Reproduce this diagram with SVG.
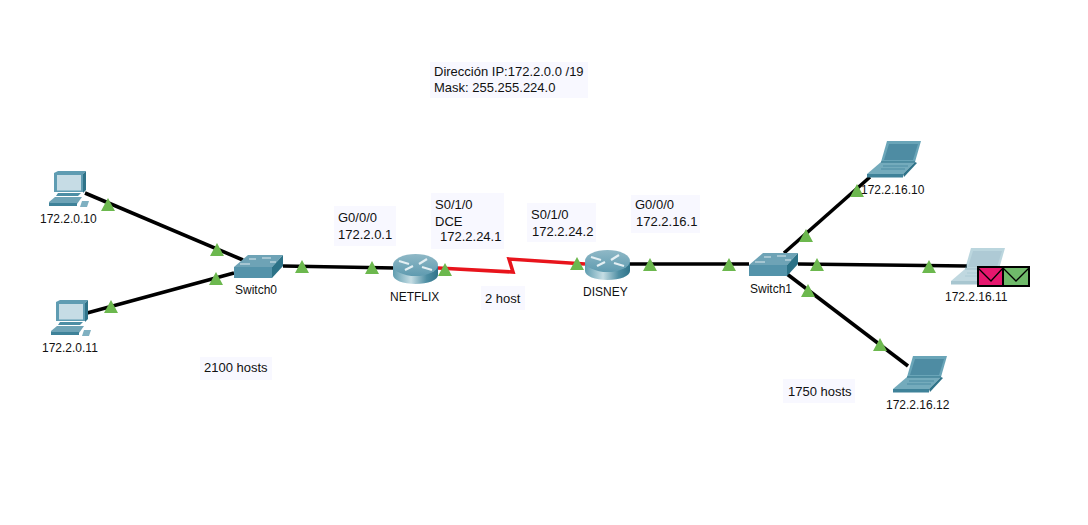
<svg xmlns="http://www.w3.org/2000/svg" width="1088" height="525" viewBox="0 0 1088 525">
<style>
text{font-family:"Liberation Sans",Arial,sans-serif;font-size:12px;fill:#111}
.n{font-size:13px}
.note{fill:#f8f8ff}
.eth{fill:none;stroke:#000;stroke-width:3.600}
.ser{fill:none;stroke:#e8141c;stroke-width:3.600}
.lt{fill:#6cb84e}
.env{stroke:#000;stroke-width:2}
.flap{fill:none;stroke:#000;stroke-width:1.300}
</style>
<defs>
<linearGradient id="rside" x1="0" x2="1" y1="0" y2="0">
<stop offset="0" stop-color="#5f9db0"/><stop offset=".4" stop-color="#c5dde4"/><stop offset=".75" stop-color="#4e8ea3"/><stop offset="1" stop-color="#2f7389"/>
</linearGradient>
<linearGradient id="rtop" x1="0" x2="0" y1="0" y2="1">
<stop offset="0" stop-color="#8fb8c6"/><stop offset="1" stop-color="#5f9bb0"/>
</linearGradient>
<g id="sw">
<polygon points="0,12 14,0 49,0 38,12" fill="#6ea3b6"/>
<polygon points="0,12 38,12 38,23 0,23" fill="#5493aa"/>
<polygon points="38,12 49,0 49,11 38,23" fill="#2c7287"/>
<path d="M15,4H22M28,3H37M36,7H42M6,9H16" stroke="#dbe9ee" stroke-width="1.200" fill="none"/>
</g>
<g id="rt">
<path d="M0,12V21C0,26 10,30 22.500,30C35,30 45,26 45,21V12Z" fill="url(#rside)"/>
<ellipse cx="22.500" cy="11" rx="22.500" ry="11" fill="url(#rtop)"/>
<path d="M6,7L16,10M12,16L20,12M26,10L34,5M29,13L39,16" stroke="#e4eff3" stroke-width="2.200" fill="none"/>
</g>
<g id="pc">
<polygon points="5,2 9,0 37,0 34,3 34,21 5,21" fill="#5f9cb2"/>
<polygon points="34,3 37,0 37,19 34,22" fill="#2f7389"/>
<rect x="8" y="4" width="24" height="15.500" fill="#c6dce5"/>
<polygon points="9,22 32,22 29,25 7,25" fill="#4d8ea5"/>
<polygon points="6,26 33,26 28,33 0,33 0,31" fill="#6ea3b6"/>
<rect x="0" y="32" width="28" height="3" fill="#3f8299"/>
<polygon points="33,30 40,30 38,36 31,36" fill="#7fb0c1"/>
</g>
<g id="lap">
<polygon points="20,0 54,0 48,21 14,21" fill="#6aa5b8"/>
<polygon points="22,3 51,3 46,19 17,19" fill="#4e8ca3"/>
<polygon points="14,21 48,21 36,33 0,33" fill="#74abbc"/>
<polygon points="48,21 50,22 37,36 36,33" fill="#2f7389"/>
<rect x="0" y="33" width="36" height="3.500" fill="#3f8299"/>
<path d="M14,21H48" stroke="#2f7389" stroke-width="1"/>
<path d="M16,25H41M14,28H38" stroke="#4d8ca3" stroke-width="1"/>
</g>
<polygon id="tri" points="0,-13 7,0 -7,0" class="lt"/>
</defs>
<rect width="1088" height="525" fill="#fff"/>

<g id="connectors">
<path class="eth" d="M85,193L243,260"/>
<path class="eth" d="M87,313L234,273"/>
<path class="eth" d="M283,266L395,268"/>
<path class="ser" d="M438,268L513,272L509,259L585,264"/>
<path class="eth" d="M630,264L749,264"/>
<path class="eth" d="M784,253L870,177"/>
<path class="eth" d="M798,264L967,266"/>
<path class="eth" d="M787,274L908,366"/>
</g>

<g id="link-lights">
<use href="#tri" x="108" y="211"/><use href="#tri" x="217" y="256"/>
<use href="#tri" x="111" y="313"/><use href="#tri" x="216" y="285"/>
<use href="#tri" x="302" y="273"/><use href="#tri" x="372" y="274"/>
<use href="#tri" x="445" y="276"/><use href="#tri" x="577" y="270"/>
<use href="#tri" x="650" y="271"/><use href="#tri" x="729" y="271"/>
<use href="#tri" x="806" y="242"/><use href="#tri" x="857" y="197"/>
<use href="#tri" x="817" y="271"/><use href="#tri" x="929" y="273"/>
<use href="#tri" x="808" y="297"/><use href="#tri" x="880" y="351"/>
</g>

<g id="note-network"><rect class="note" x="430" y="62" width="158" height="36"/><text class="n" x="434" y="76">Dirección IP:172.2.0.0 /19</text><text class="n" x="434" y="92">Mask: 255.255.224.0</text></g>
<g id="note-g0-netflix"><rect class="note" x="334" y="206" width="62" height="40"/><text class="n" x="338" y="222">G0/0/0</text><text class="n" x="338" y="239">172.2.0.1</text></g>
<g id="note-s0-netflix"><rect class="note" x="431" y="193" width="73" height="56"/><text class="n" x="435" y="209">S0/1/0</text><text class="n" x="435" y="226">DCE</text><text class="n" x="440" y="241">172.2.24.1</text></g>
<g id="note-s0-disney"><rect class="note" x="527" y="203" width="69" height="39"/><text class="n" x="531" y="219">S0/1/0</text><text class="n" x="532" y="236">172.2.24.2</text></g>
<g id="note-g0-disney"><rect class="note" x="631" y="195" width="69" height="38"/><text class="n" x="635" y="209">G0/0/0</text><text class="n" x="636" y="226">172.2.16.1</text></g>
<g id="note-2host"><rect class="note" x="481" y="286" width="44" height="24"/><text class="n" x="485" y="303">2 host</text></g>
<g id="note-2100"><rect class="note" x="200" y="357" width="72" height="23"/><text class="n" x="204" y="372">2100 hosts</text></g>
<g id="note-1750"><rect class="note" x="783" y="379" width="72" height="24"/><text class="n" x="788" y="396">1750 hosts</text></g>

<g id="pc0"><use href="#pc" x="49" y="171"/><text x="40" y="223">172.2.0.10</text></g>
<g id="pc1"><use href="#pc" x="51" y="300"/><text x="42" y="352">172.2.0.11</text></g>
<g id="switch0"><use href="#sw" x="234" y="255"/><text x="235" y="294">Switch0</text></g>
<g id="netflix"><use href="#rt" x="393" y="254"/><text x="390" y="301">NETFLIX</text></g>
<g id="disney"><use href="#rt" x="585" y="250"/><text x="583" y="296">DISNEY</text></g>
<g id="switch1"><use href="#sw" x="749" y="253"/><text x="750" y="293">Switch1</text></g>
<g id="laptop0"><use href="#lap" x="867" y="141"/><text x="861" y="194">172.2.16.10</text></g>
<g id="laptop1"><use href="#lap" x="951" y="248" opacity=".45"/>
<rect class="env" x="978" y="267" width="25" height="19" fill="#e6176e"/><path class="flap" d="M978,268L991,281L1003,268"/>
<rect class="env" x="1003" y="267" width="26" height="19" fill="#6fba6a"/><path class="flap" d="M1003,268L1016,281L1029,268"/>
<text x="945" y="301">172.2.16.11</text></g>
<g id="laptop2"><use href="#lap" x="893" y="356"/><text x="886" y="409">172.2.16.12</text></g>
</svg>
